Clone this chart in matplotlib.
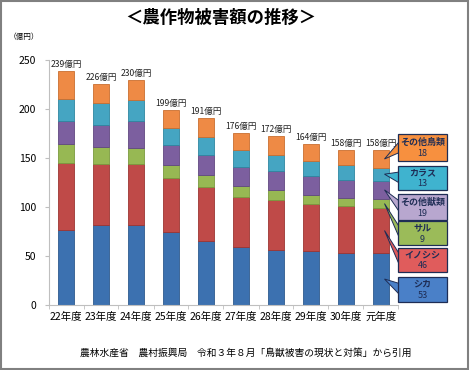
import matplotlib
matplotlib.use("Agg")
import matplotlib.pyplot as plt
from matplotlib.patches import Rectangle, Polygon
import numpy as np

plt.rcParams['font.family'] = ['Noto Sans CJK JP', 'DejaVu Sans']

years = ["22年度", "23年度", "24年度", "25年度", "26年度",
         "27年度", "28年度", "29年度", "30年度", "元年度"]
series_names = ["シカ", "イノシシ", "サル", "その他獣類", "カラス", "その他鳥類"]
shika = [77, 82, 82, 75, 65, 59, 56, 55, 53, 53]
inoshishi = [68, 62, 62, 55, 55, 51, 51, 48, 48, 46]
saru = [19, 17, 16, 13, 13, 11, 10, 9, 8, 9]
other_beasts = [24, 23, 28, 20, 20, 20, 20, 20, 19, 19]
karasu = [22, 22, 21, 18, 18, 17, 16, 15, 15, 13]
other_birds = [29, 20, 21, 18, 20, 18, 19, 17, 15, 18]
totals = [239, 226, 230, 199, 191, 176, 172, 164, 158, 158]

series = [shika, inoshishi, saru, other_beasts, karasu, other_birds]
bar_colors = ["#3C71B0", "#BF4A48", "#97B853", "#7C5F9F", "#45A5C2", "#EE8A45"]
edge_colors = ["#2E5A8E", "#9C3532", "#7A9A3E", "#604880", "#2F86A0", "#C96F30"]
box_colors = ["#4A80C8", "#E05C5C", "#9BBB59", "#B8A7CF", "#3FB3CF", "#F7903F"]

W, H = 470, 370
fig = plt.figure(figsize=(W / 100, H / 100), dpi=100)
ax = fig.add_axes([48.5 / W, 1 - 305 / H, 350 / W, 245 / H])

x = np.arange(len(years))
bottom = np.zeros(len(years))
for vals, fc, ec in zip(series, bar_colors, edge_colors):
    ax.bar(x, vals, bottom=bottom, width=0.48, color=fc, edgecolor=ec, linewidth=0.6)
    bottom += np.array(vals)

for xi, t, top in zip(x, totals, bottom):
    ax.text(xi, top + 2, f"{t}億円", ha="center", va="bottom", fontsize=6.2, color="#222222")

ax.set_xlim(-0.5, len(years) - 0.5)
ax.set_ylim(0, 250)
ax.set_yticks(range(0, 251, 50))
ax.set_xticks(x)
ax.set_xticklabels(years, fontsize=7.5)
ax.set_xticks(np.arange(-0.5, len(years), 1), minor=True)
ax.tick_params(axis="x", which="major", length=0, pad=5)
ax.tick_params(axis="x", which="minor", length=3, color="#BFBFBF")
ax.tick_params(axis="y", length=3, color="#BFBFBF", labelsize=7.5, pad=6)
for s in ["top", "right"]:
    ax.spines[s].set_visible(False)
for s in ["left", "bottom"]:
    ax.spines[s].set_color("#BFBFBF")

fig.text(0.47, 1 - 18 / H, "＜農作物被害額の推移＞", ha="center", va="center",
         fontsize=12.5, fontweight="bold")
fig.text(24 / W, 1 - 37 / H, "（億円）", ha="center", va="center", fontsize=5.5)
fig.text(246 / W, 1 - 353 / H,
         "農林水産省　農村振興局　令和３年８月「鳥獣被害の現状と対策」から引用",
         ha="center", va="center", fontsize=7)

# callouts for the last year
fig.canvas.draw()
to_fig = fig.transFigure.inverted()
box_tops = [277, 248, 221, 194, 166, 134]
box_h = [25, 24, 24, 26, 24, 27]
bx0, bx1 = 398, 447
last = len(years) - 1
cum = 0
navy = "#1E2D55"
for name, vals, bc, top, h in zip(series_names, series, box_colors, box_tops, box_h):
    v = vals[last]
    mid = cum + v / 2
    cum += v
    tip = to_fig.transform(ax.transData.transform((last + 0.1, mid)))
    y0 = 1 - (top + h) / H
    y1 = 1 - top / H
    ym = (y0 + y1) / 2
    wedge = Polygon([[bx0 / W + 0.003, ym + 6 / H], tip, [bx0 / W + 0.003, ym - 5 / H]],
                    closed=True, transform=fig.transFigure, facecolor=bc,
                    edgecolor=navy, linewidth=0.7, zorder=4)
    fig.add_artist(wedge)
    rect = Rectangle((bx0 / W, y0), (bx1 - bx0) / W, y1 - y0, transform=fig.transFigure,
                     facecolor=bc, edgecolor=navy, linewidth=0.9, zorder=5)
    fig.add_artist(rect)
    cx = (bx0 + bx1) / 2 / W
    fig.text(cx, ym + 5 / H, name, ha="center", va="center", fontsize=6.5,
             fontweight="bold", color=navy, zorder=6)
    fig.text(cx, ym - 6 / H, str(v), ha="center", va="center", fontsize=6.5,
             color=navy, zorder=6)

fig.add_artist(Rectangle((0.003, 0.004), 0.992, 0.992, transform=fig.transFigure,
                         fill=False, edgecolor="#808080", linewidth=1.5))

fig.savefig("out.png", dpi=100)
